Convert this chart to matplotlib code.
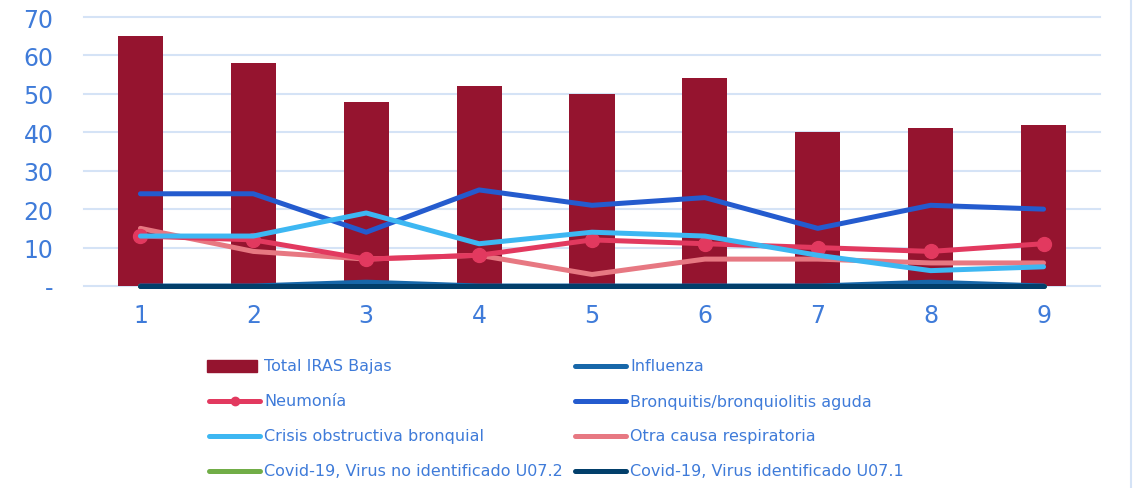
import matplotlib
matplotlib.use("Agg")
import matplotlib.pyplot as plt
from matplotlib.lines import Line2D
from matplotlib.patches import Rectangle

plt.rcParams['font.family'] = ['DejaVu Sans']

categories = [1, 2, 3, 4, 5, 6, 7, 8, 9]
total_iras = [65, 58, 48, 52, 50, 54, 40, 41, 42]
influenza = [0, 0, 1, 0, 0, 0, 0, 1, 0]
neumonia = [13, 12, 7, 8, 12, 11, 10, 9, 11]
bronquitis = [24, 24, 14, 25, 21, 23, 15, 21, 20]
crisis = [13, 13, 19, 11, 14, 13, 8, 4, 5]
otra = [15, 9, 7, 8, 3, 7, 7, 6, 6]
covid_no_id = [0, 0, 0, 0, 0, 0, 0, 0, 0]
covid_id = [0, 0, 0, 0, 0, 0, 0, 0, 0]
yticks = [0, 10, 20, 30, 40, 50, 60, 70]
ytick_labels = ['-', '10', '20', '30', '40', '50', '60', '70']

C_TOTAL = '#95142F'
C_INFL = '#1767A9'
C_NEUM = '#E2395F'
C_BRON = '#245BCE'
C_CRIS = '#3DB7F2'
C_OTRA = '#E77882'
C_COV2 = '#71AD47'
C_COV1 = '#023F6B'
C_TEXT = '#3F7BD9'
C_GRID = '#D5E3F6'

W, H = 1137, 489
fig = plt.figure(figsize=(W / 100, H / 100), dpi=100)
ax = fig.add_axes([84 / W, 1 - 287 / H, (1100 - 84) / W, (287 - 18) / H])

ax.bar(categories, total_iras, width=0.4, color=C_TOTAL, zorder=2)
lw = 3.6
kw = dict(lw=lw, solid_capstyle='round', clip_on=False)
ax.plot(categories, influenza, color=C_INFL, zorder=3, **kw)
ax.plot(categories, neumonia, color=C_NEUM, marker='o', markersize=10, zorder=4, **kw)
ax.plot(categories, bronquitis, color=C_BRON, zorder=4, **kw)
ax.plot(categories, crisis, color=C_CRIS, zorder=5, **kw)
ax.plot(categories, otra, color=C_OTRA, zorder=3, **kw)
ax.plot(categories, covid_no_id, color=C_COV2, zorder=3, **kw)
ax.plot(categories, covid_id, color=C_COV1, zorder=3.5, **kw)

ax.set_xlim(0.5, 9.5)
ax.set_ylim(0, 70)
ax.set_yticks(yticks)
ax.set_yticklabels(ytick_labels)
ax.set_xticks(categories)
ax.set_xticklabels([str(c) for c in categories])
ax.tick_params(axis='y', length=0, pad=22, labelsize=17, labelcolor=C_TEXT)
ax.tick_params(axis='x', length=0, pad=12, labelsize=17, labelcolor=C_TEXT)
for s in ax.spines.values():
    s.set_visible(False)
ax.grid(axis='y', color=C_GRID, lw=1.5, zorder=0, clip_on=False)
ax.set_axisbelow(True)

# right border of chart area
fig.add_artist(Line2D([1131 / W, 1131 / W], [0, 1], color=C_GRID, lw=1.5))

# legend (manual, row-wise)
items = [
    ('Total IRAS Bajas', C_TOTAL, 'bar'),
    ('Influenza', C_INFL, 'line'),
    ('Neumonía', C_NEUM, 'marker'),
    ('Bronquitis/bronquiolitis aguda', C_BRON, 'line'),
    ('Crisis obstructiva bronquial', C_CRIS, 'line'),
    ('Otra causa respiratoria', C_OTRA, 'line'),
    ('Covid-19, Virus no identificado U07.2', C_COV2, 'line'),
    ('Covid-19, Virus identificado U07.1', C_COV1, 'line'),
]
col_x = [207, 573]
row_y = [367, 402, 437, 472]
hl = 55
for i, (label, color, kind) in enumerate(items):
    x0 = col_x[i % 2]
    y0 = row_y[i // 2]
    fy = 1 - y0 / H
    if kind == 'bar':
        fig.add_artist(Rectangle((x0 / W, 1 - (y0 + 6) / H), 50 / W, 12 / H,
                                 color=color, transform=fig.transFigure))
    else:
        fig.add_artist(Line2D([(x0 + 2) / W, (x0 + hl - 2) / W], [fy, fy], color=color,
                              lw=lw, solid_capstyle='round'))
        if kind == 'marker':
            fig.add_artist(Line2D([(x0 + hl / 2) / W], [fy], color=color, marker='o',
                                  markersize=6, lw=0))
    fig.text((x0 + hl + 2) / W, fy, label, color=C_TEXT, fontsize=11.5, va='center', ha='left')

fig.savefig('out.png', dpi=100)
